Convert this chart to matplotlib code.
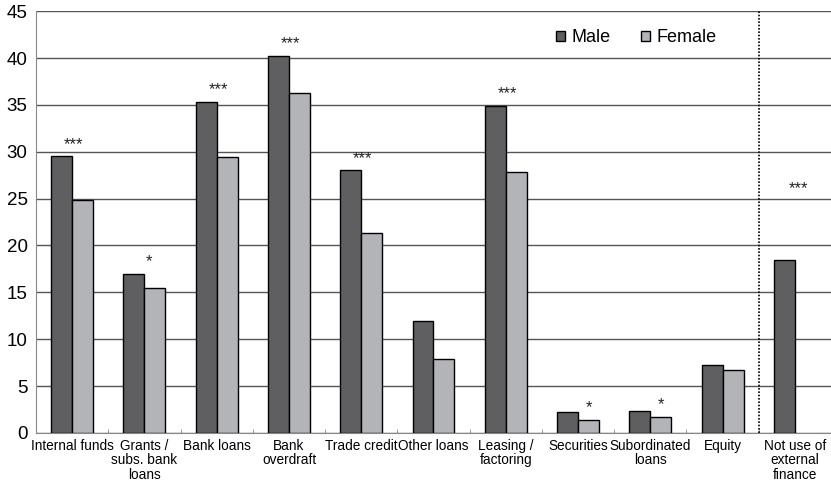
import numpy as np
import matplotlib.pyplot as plt

plt.rcParams['font.family'] = ['Liberation Sans', 'DejaVu Sans']

categories = ['Internal funds', 'Grants /\nsubs. bank\nloans', 'Bank loans', 'Bank\noverdraft',
              'Trade credit', 'Other loans', 'Leasing /\nfactoring', 'Securities',
              'Subordinated\nloans', 'Equity', 'Not use of\nexternal\nfinance']
male = [29.5, 17.0, 35.3, 40.2, 28.0, 11.9, 34.9, 2.2, 2.3, 7.2, 18.5]
female = [24.9, 15.5, 29.4, 36.3, 21.3, 7.9, 27.8, 1.4, 1.7, 6.7, np.nan]
signif = ['***', '*', '***', '***', '***', '', '***', '*', '*', '', '***']

male_color = '#5f5f61'
female_color = '#b3b4b7'
width = 0.29

fig = plt.figure(figsize=(8.31, 4.84), dpi=100)
ax = fig.add_axes([0.0433, 0.1054, 0.9567, 0.8716])

x = np.arange(len(categories))
ax.bar(x - width / 2, male, width, color=male_color, edgecolor='black', linewidth=1, label='Male', zorder=3)
ax.bar(x + width / 2, female, width, color=female_color, edgecolor='black', linewidth=1, label='Female', zorder=3)

# significance stars above each pair
for i, s in enumerate(signif):
    if not s:
        continue
    m, f = male[i], female[i]
    if np.isnan(f):
        xs, ys = i + 0.05, 25.3
    elif s == '*' and m < 5 and m - f > 0.5:
        xs, ys = i + width / 2, f + 0.5
    elif s == '*' and m < 5:
        xs, ys = i - width / 2, m + 0.5
    elif s == '*':
        xs, ys = i + 0.06, max(m, f) + 0.5
    else:
        xs, ys = i + 0.02, max(m, f) + 0.5
    ax.text(xs, ys, s, ha='center', va='bottom', fontsize=12, color='#222222')

ax.axvline(9.5, color='black', linestyle=(0, (1, 1)), linewidth=1.2, zorder=4)

ax.set_xlim(-0.5, 10.5)
ax.set_ylim(0, 45)
ax.set_yticks(range(0, 46, 5))
ax.yaxis.grid(True, color='#555555', linewidth=1)
ax.set_axisbelow(True)
ax.tick_params(axis='y', length=0, labelsize=13.5, pad=6)

ax.set_xticks(x)
ax.set_xticklabels(categories, fontsize=9.8, linespacing=1.08)
ax.set_xticks(np.arange(-0.5, 10.6, 1), minor=True)
ax.tick_params(axis='x', which='major', length=0, pad=4)
ax.tick_params(axis='x', which='minor', length=3, direction='in', color='#888888')

for side in ['top', 'right']:
    ax.spines[side].set_visible(False)
ax.spines['left'].set_color('#888888')
ax.spines['bottom'].set_color('#888888')

ax.legend(loc='center', bbox_to_anchor=(0.755, 0.937), ncol=2, frameon=False, fontsize=13,
          handlelength=0.5, handleheight=0.5, columnspacing=1.7, handletextpad=0.35)

fig.savefig('out.png', dpi=100)
